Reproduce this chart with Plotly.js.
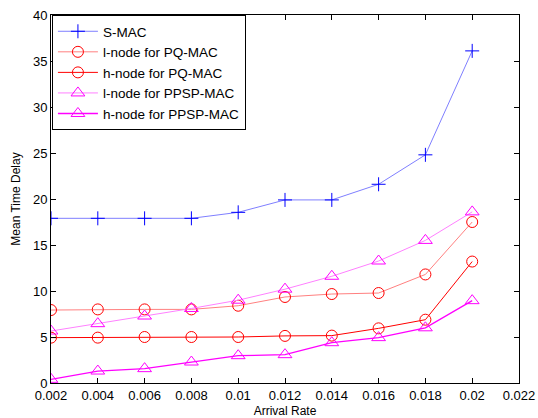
<!DOCTYPE html>
<html><head><meta charset="utf-8">
<script src="https://cdn.plot.ly/plotly-3.0.1.min.js"></script>
<style>html,body{margin:0;padding:0;background:#fff}#chart{width:538px;height:418px}</style>
</head><body><div id="chart"></div>
<script>
const arrivalRate = [0.002,0.004,0.006,0.008,0.010,0.012,0.014,0.016,0.018,0.020];
const sMac       = [17.9,17.9,17.9,17.9,18.55,19.9,19.9,21.6,24.8,36.1];
const lNodePQ    = [7.93,8.0,8.0,8.0,8.4,9.35,9.67,9.78,11.8,17.5];
const hNodePQ    = [4.93,4.93,5.0,5.0,5.0,5.12,5.15,5.94,6.88,13.2];
const lNodePPSP  = [5.65,6.45,7.28,8.1,9.0,10.2,11.6,13.26,15.5,18.6];
const hNodePPSP  = [0.4,1.3,1.56,2.28,2.97,3.08,4.38,4.93,6.0,8.95];
const seriesNames = ['S-MAC','l-node for PQ-MAC','h-node for PQ-MAC','l-node for PPSP-MAC','h-node for PPSP-MAC'];
const xTicks = [0.002,0.004,0.006,0.008,0.01,0.012,0.014,0.016,0.018,0.02,0.022];
const yTicks = [0,5,10,15,20,25,30,35,40];

function tr(y, name, lineColor, markColor, sym, size, lw){
  return {x: arrivalRate, y: y, name: name, type:'scatter', mode:'lines+markers',
    line:{color: lineColor, width: lw},
    marker:{symbol: sym, size: size, color: markColor, line:{color: markColor, width:1}}};
}
const data = [
  tr(sMac, seriesNames[0], '#7f7fff', '#0000ff', 'cross-thin-open', 10, 1),
  tr(lNodePQ, seriesNames[1], '#ff8080', '#ff0000', 'circle-open', 11, 1),
  tr(hNodePQ, seriesNames[2], '#ff0000', '#ff0000', 'circle-open', 11, 1),
  tr(lNodePPSP, seriesNames[3], '#ff80ff', '#ff00ff', 'triangle-up-open', 12, 1),
  tr(hNodePPSP, seriesNames[4], '#ff00ff', '#ff00ff', 'triangle-up-open', 12, 1.3)
];
const axisCommon = {showgrid:false, zeroline:false, showline:true, linecolor:'#000', linewidth:1,
  mirror:'ticks', ticks:'inside', ticklen:5, tickcolor:'#000',
  tickfont:{family:'Liberation Sans, Arial', size:13, color:'#000'}};
const layout = {
  width:538, height:418,
  margin:{l:51, r:19, t:15, b:35},
  paper_bgcolor:'#fff', plot_bgcolor:'#fff',
  font:{family:'Liberation Sans, Arial', color:'#000'},
  xaxis: Object.assign({}, axisCommon, {range:[0.002,0.022], tickvals:xTicks,
    ticktext: xTicks.map(v=>String(+v.toFixed(3))),
    title:{text:'Arrival Rate', font:{size:12}, standoff:7}}),
  yaxis: Object.assign({}, axisCommon, {range:[0,40], tickvals:yTicks,
    title:{text:'Mean Time Delay', font:{size:12}, standoff:9}}),
  legend:{x:0.002, y:1.0, xanchor:'left', yanchor:'top', bgcolor:'#fff',
    bordercolor:'#000', borderwidth:1, itemwidth:40, tracegroupgap:0,
    font:{family:'Liberation Sans, Arial', size:13.5, color:'#000'}},
  showlegend:true
};
Plotly.newPlot('chart', data, layout, {staticPlot:true});
</script></body></html>
